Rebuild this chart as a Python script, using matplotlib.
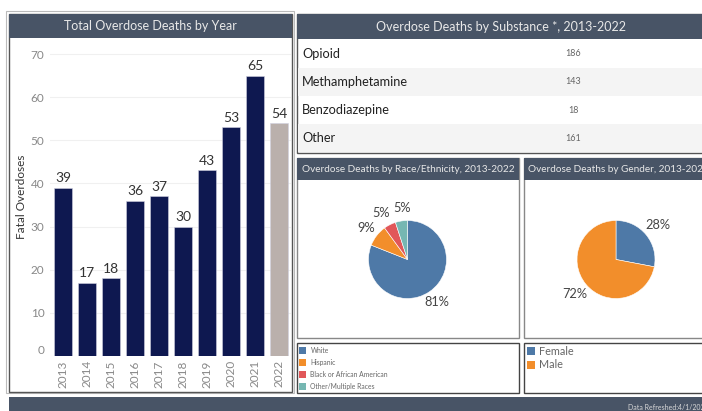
import matplotlib.pyplot as plt
from matplotlib.patches import Rectangle

plt.rcParams["font.family"] = ["Lato", "DejaVu Sans"]

# data
YEARS = ["2013", "2014", "2015", "2016", "2017", "2018", "2019", "2020", "2021", "2022"]
DEATHS = [39, 17, 18, 36, 37, 30, 43, 53, 65, 54]
SUBSTANCES = ["Opioid", "Methamphetamine", "Benzodiazepine", "Other"]
SUBSTANCE_DEATHS = [186, 143, 18, 161]
RACES = ["White", "Hispanic", "Black or African American", "Other/Multiple Races"]
RACE_PCT = [81, 9, 5, 5]
GENDERS = ["Female", "Male"]
GENDER_PCT = [28, 72]

W, H = 702, 411
HEADER = "#485466"
NAVY = "#0e1850"
GREY_BAR = "#bab0ac"
PIE_COLORS = ["#4e79a7", "#f28e2b", "#e15759", "#76b7b2"]


def box(x0, y0, x1, y1):
    """pixel box (top-left origin) -> figure fraction rect"""
    return [x0 / W, (H - y1) / H, (x1 - x0) / W, (y1 - y0) / H]


fig = plt.figure(figsize=(W / 100, H / 100), dpi=100)

# background layer in pixel coordinates
bg = fig.add_axes([0, 0, 1, 1])
bg.set_xlim(0, W)
bg.set_ylim(H, 0)
bg.axis("off")


def rect(x0, y0, x1, y1, **kw):
    bg.add_patch(Rectangle((x0, y0), x1 - x0, y1 - y0, **kw))


# panel frames
rect(6, 11, 294, 393, facecolor="white", edgecolor="#bbbbbb", lw=0.8)
rect(9, 14, 292, 392, facecolor="white", edgecolor="#555555", lw=1.0)
rect(297, 14, 705, 153, facecolor="white", edgecolor="#555555", lw=1.0)
rect(297, 158, 519, 338, facecolor="white", edgecolor="#888888", lw=1.0)
rect(524, 158, 705, 338, facecolor="white", edgecolor="#888888", lw=1.0)
rect(297, 343, 519, 393, facecolor="white", edgecolor="#444444", lw=1.0)
rect(524, 343, 705, 393, facecolor="white", edgecolor="#444444", lw=1.0)

# headers
rect(9, 14, 292, 38, facecolor=HEADER, edgecolor="none")
bg.text(150, 26.5, "Total Overdose Deaths by Year", color="#e8e8e8",
        fontsize=9, ha="center", va="center")
rect(297, 14, 705, 39, facecolor=HEADER, edgecolor="none")
bg.text(501, 27, "Overdose Deaths by Substance *, 2013-2022", color="#e8e8e8",
        fontsize=9, ha="center", va="center")
rect(297, 158, 519, 180, facecolor=HEADER, edgecolor="none")
bg.text(302, 169.5, "Overdose Deaths by Race/Ethnicity, 2013-2022", color="#e8e8e8",
        fontsize=7.2, ha="left", va="center")
rect(524, 158, 705, 180, facecolor=HEADER, edgecolor="none")
bg.text(528, 169.5, "Overdose Deaths by Gender, 2013-2022", color="#e8e8e8",
        fontsize=7.2, ha="left", va="center")

# substance table
row_h = 28.2
for i, (name, val) in enumerate(zip(SUBSTANCES, SUBSTANCE_DEATHS)):
    top = 39.5 + i * row_h
    if i % 2 == 1:
        rect(298, top, 705, top + row_h, facecolor="#f4f4f4", edgecolor="none")
    bg.text(302, top + row_h / 2, name, fontsize=9.2, color="#222222", ha="left", va="center")
    bg.text(573, top + row_h / 2, str(val), fontsize=6.5, color="#666666", ha="center", va="center")

# legends
for i, (name, col) in enumerate(zip(RACES, PIE_COLORS)):
    y = 350 + i * 12
    rect(299, y - 3.5, 306, y + 3.5, facecolor=col, edgecolor="none")
    bg.text(310.5, y, name, fontsize=4.9, color="#666666", ha="left", va="center")
for i, (name, col) in enumerate(zip(GENDERS, PIE_COLORS[:2])):
    y = 351 + i * 13.5
    rect(527, y - 4, 535, y + 4, facecolor=col, edgecolor="none")
    bg.text(539, y, name, fontsize=7.8, color="#666666", ha="left", va="center")

# footer
rect(9, 397, 705, 412, facecolor=HEADER, edgecolor="none")
bg.text(628, 407, "Data Refreshed:4/1/2023", fontsize=5, color="#d8d8d8", ha="left", va="center")

# bar chart
ax = fig.add_axes(box(50, 40, 291, 356))
x = list(range(len(YEARS)))
colors = [NAVY] * (len(YEARS) - 1) + [GREY_BAR]
bars = ax.bar(x, DEATHS, width=0.75, color=colors, edgecolor="#d0d0e0", linewidth=0.4, zorder=2)
for b, v in zip(bars, DEATHS):
    ax.text(b.get_x() + b.get_width() / 2, v + 0.8, str(v), ha="center", va="bottom",
            fontsize=10, color="#333333")
ax.set_xlim(-0.54, 9.5)
ax.set_ylim(0, 73.25)
ax.set_yticks(range(0, 71, 10))
ax.set_xticks(x)
ax.set_xticklabels(YEARS, rotation=90, fontsize=8.5, color="#888888")
ax.tick_params(axis="y", labelsize=8.5, labelcolor="#888888", length=0, pad=4)
ax.tick_params(axis="x", length=0, pad=3)
ax.yaxis.get_ticklabels()[0].set_va("bottom")
ax.grid(axis="y", color="#f0f0f0", lw=0.8, zorder=0)
for s in ax.spines.values():
    s.set_visible(False)
ax.set_facecolor("none")
fig.text(22 / W, 1 - 197 / H, "Fatal Overdoses", rotation=90, fontsize=8.5,
         color="#333333", ha="center", va="center")


def pie_axes(cx, cy, r, values, colors, dist, nudge):
    half = 62
    pa = fig.add_axes(box(cx - half, cy - half, cx + half, cy + half))
    _, _, autotexts = pa.pie(values, colors=colors, startangle=90, counterclock=False,
                             autopct="%1.0f%%", pctdistance=dist,
                             wedgeprops=dict(edgecolor="white", linewidth=0.4))
    for t, dx in zip(autotexts, nudge):
        t.set_fontsize(9.2)
        t.set_color("#444444")
        px, py = t.get_position()
        t.set_position((px + dx / r, py))
    lim = half / r
    pa.set_xlim(-lim, lim)
    pa.set_ylim(-lim, lim)
    pa.set_aspect("equal")
    pa.axis("off")


pie_axes(407.5, 259.5, 39, RACE_PCT, PIE_COLORS, 1.33, [0, 0, -3, 2.5])
pie_axes(616, 259.5, 39, GENDER_PCT, PIE_COLORS[:2], 1.38, [0, 0])

fig.savefig("out.png", dpi=100)
